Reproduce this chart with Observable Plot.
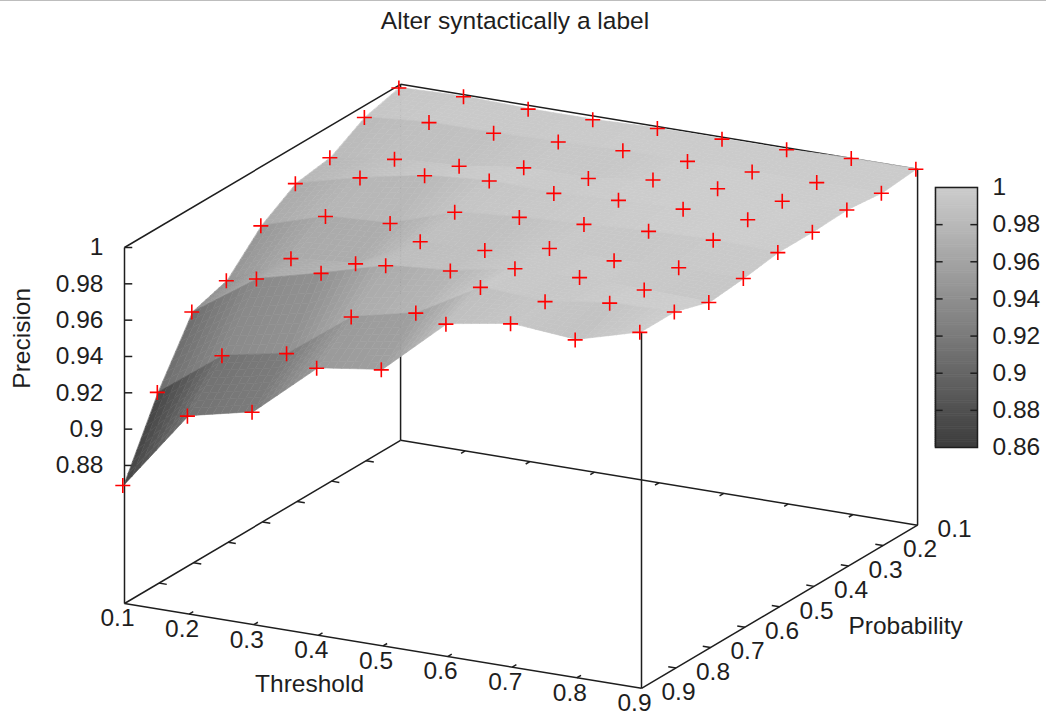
<!DOCTYPE html>
<html>
<head>
<meta charset="utf-8">
<script src="https://cdn.jsdelivr.net/npm/d3@7"></script>
<script src="https://cdn.jsdelivr.net/npm/@observablehq/plot@0.6"></script>
<style>
html,body{margin:0;padding:0;background:#fff;}
#chart{position:relative;width:1046px;height:715px;overflow:hidden;}
#chart svg{display:block;}
#title{position:absolute;left:0;top:7px;width:1030px;text-align:center;font:24.5px "Liberation Sans",Arial,sans-serif;color:#1e1e1e;z-index:2;}
#topline{position:absolute;left:0;top:0;width:1046px;height:1px;background:#bdbdbd;z-index:2;}
#cb{position:absolute;left:920px;top:170px;}
</style>
</head>
<body>
<div id="chart"><div id="topline"></div><div id="title">Alter syntactically a label</div></div>
<script>
const thresholds = [0.1,0.2,0.3,0.4,0.5,0.6,0.7,0.8,0.9];
const probabilities = [0.1,0.2,0.3,0.4,0.5,0.6,0.7,0.8,0.9];
const precisionP1 = [0.998,0.999,0.998,0.998,0.999,0.999,0.999,1.0,1.0];
const precisionP2 = [0.993,0.996,0.996,0.997,0.998,0.998,0.998,0.998,0.998];
const precisionP3 = [0.982,0.987,0.989,0.994,0.994,0.999,1.0,0.999,1.0];
const precisionP4 = [0.979,0.988,0.995,0.998,0.997,0.999,1.0,1.0,0.999];
const precisionP5 = [0.967,0.978,0.980,0.992,0.995,0.997,0.999,1.0,0.999];
const precisionP6 = [0.948,0.966,0.969,0.987,0.988,0.995,0.994,0.996,0.996];
const precisionP7 = [0.942,0.966,0.975,0.985,0.988,0.995,0.996,0.995,0.994];
const precisionP8 = [0.909,0.935,0.942,0.968,0.976,0.996,0.994,0.999,1.0];
const precisionP9 = [0.869,0.913,0.921,0.951,0.956,0.987,0.993,0.990,1.0];
const precisionRows = [precisionP1,precisionP2,precisionP3,precisionP4,precisionP5,precisionP6,precisionP7,precisionP8,precisionP9];
const zTicks = [0.88,0.9,0.92,0.94,0.96,0.98,1];
const colorbarTicks = [0.86,0.88,0.9,0.92,0.94,0.96,0.98,1];
const zBase = 0.804, zTop = 1;
const ink = "#1e1e1e";
const fontFamily = '"Liberation Sans",Arial,sans-serif';
const fontSize = 24.5;

// oblique view: the x scale reads Threshold, the y scale reads Precision, Probability shears both
const shearXP = 0.534, shearYT = 0.0584, shearYP = 0.1123;
const px = (T,P) => T + (0.9-P)*shearXP;
const py = (T,P,Z) => Z - (T-0.1)*shearYT + (0.9-P)*shearYP;

const greys = {type:"linear",domain:[0.86,1],range:["#3c3c3c","#cdcdcd"]};

// surface pieces, painted from the back corner to the front corner.
// Each band between two probability rows takes its grey from its front row.
const steps = 8;
const surface = [];
let id = 0;
const lerp = (a,b,t) => a+(b-a)*t;
for (let j=0;j<8;j++) for (let i=0;i<8;i++) {
  const z00=precisionRows[j][i], z10=precisionRows[j][i+1], z01=precisionRows[j+1][i], z11=precisionRows[j+1][i+1];
  const at=(s,t)=>{
    const T=lerp(thresholds[i],thresholds[i+1],s), P=lerp(probabilities[j],probabilities[j+1],t);
    const Z=lerp(lerp(z00,z10,s),lerp(z01,z11,s),t);
    return {x:px(T,P),y:py(T,P,Z)};
  };
  for (let b=0;b<steps;b++) for (let a=0;a<steps;a++) {
    const A0=at(a/steps,b/steps),A1=at((a+1)/steps,b/steps),B0=at(a/steps,(b+1)/steps),B1=at((a+1)/steps,(b+1)/steps);
    const c=lerp(z01,z11,(a+0.5)/steps); id++;
    surface.push({x1:A0.x,y1:A0.y,x2:B0.x,y2:B0.y,c,id},{x1:A1.x,y1:A1.y,x2:B1.x,y2:B1.y,c,id});
  }
}
const points = precisionRows.flatMap((row,j)=>row.map((Z,i)=>({x:px(thresholds[i],probabilities[j]),y:py(thresholds[i],probabilities[j],Z)})));

const edge = (a,b)=>({x1:px(a[0],a[1]),y1:py(...a),x2:px(b[0],b[1]),y2:py(...b)});
const backEdges = [
  edge([0.1,0.9,zBase],[0.9,0.9,zBase]), edge([0.9,0.9,zBase],[0.9,0.1,zBase]),
  edge([0.1,0.9,zBase],[0.1,0.1,zBase]), edge([0.1,0.1,zBase],[0.9,0.1,zBase]),
  edge([0.1,0.9,zBase],[0.1,0.9,zTop]), edge([0.1,0.1,zBase],[0.1,0.1,zTop]),
  edge([0.9,0.1,zBase],[0.9,0.1,zTop]),
  edge([0.1,0.9,zTop],[0.1,0.1,zTop]), edge([0.1,0.1,zTop],[0.9,0.1,zTop])
];
const frontEdges = [edge([0.9,0.9,zBase],[0.9,0.9,zTop])];
const tl = 0.012;
const tickLinks = [
  ...thresholds.slice(1,-1).flatMap(T=>[edge([T,0.9,zBase],[T,0.9-tl,zBase]),edge([T,0.1,zBase],[T,0.1+tl,zBase])]),
  ...probabilities.slice(1,-1).flatMap(P=>[edge([0.9,P,zBase],[0.9-tl,P,zBase]),edge([0.1,P,zBase],[0.1+tl,P,zBase])]),
  ...zTicks.map(z=>({x1:0.1,y1:z,x2:0.1+tl,y2:z}))
];

const txt = {fontFamily,fontSize,fill:ink};
const main = Plot.plot({
  width:1046,height:715,
  marginLeft:124,marginTop:0,marginRight:0,marginBottom:0,
  x:{type:"linear",domain:[0.1,0.9],range:[124,641],axis:null},
  y:{type:"linear",domain:[zBase,1],range:[603,247]},
  color:greys,
  style:{background:"white",overflow:"visible"},
  marks:[
    Plot.link(backEdges,{x1:"x1",y1:"y1",x2:"x2",y2:"y2",stroke:ink,strokeWidth:1.5}),
    Plot.link(tickLinks,{x1:"x1",y1:"y1",x2:"x2",y2:"y2",stroke:ink,strokeWidth:1.5}),
    Plot.area(surface,{x1:"x1",y1:"y1",x2:"x2",y2:"y2",z:"id",fill:"c",stroke:"c",strokeWidth:0.6,curve:"linear"}),
    Plot.link(frontEdges,{x1:"x1",y1:"y1",x2:"x2",y2:"y2",stroke:ink,strokeWidth:1.5}),
    Plot.dot(points,{x:"x",y:"y",symbol:"plus",r:4.9,dx:-1.7,stroke:"#ff0000",strokeWidth:1.6}),
    Plot.axisY({anchor:"left",ticks:zTicks,tickSize:0,tickPadding:21,tickFormat:d=>String(d),label:null,fontSize,fontFamily,color:ink}),
    Plot.text(thresholds,{x:T=>px(T,0.9),y:T=>py(T,0.9,zBase),text:T=>String(T),dx:-7,dy:15,...txt}),
    Plot.text(probabilities,{x:P=>px(0.9,P),y:P=>py(0.9,P,zBase),text:P=>String(P),dx:37,dy:4,...txt}),
    Plot.text(["Threshold"],{x:()=>px(0.49,1.094),y:()=>py(0.49,1.094,zBase),text:d=>d,...txt}),
    Plot.text(["Probability"],{x:()=>px(1.093,0.496),y:()=>py(1.093,0.496,zBase),text:d=>d,...txt}),
    Plot.text(["Precision"],{x:()=>-0.058,y:()=>0.95,text:d=>d,rotate:-90,...txt})
  ]
});
document.getElementById("chart").appendChild(main);

const barSteps = d3.range(0,140).map(k=>0.86+k*0.001);
const cb = Plot.plot({
  width:126,height:300,
  marginLeft:15,marginRight:69,marginTop:17,marginBottom:23,
  x:{type:"linear",domain:[0,1],axis:null},
  y:{type:"linear",domain:[0.86,1]},
  color:greys,
  style:{overflow:"visible",background:"transparent"},
  marks:[
    Plot.rect(barSteps,{x1:()=>0,x2:()=>1,y1:d=>d,y2:d=>d+0.001,fill:d=>d+0.0005,inset:-0.3}),
    Plot.link(colorbarTicks.slice(1,-1),{x1:()=>0,x2:()=>0.17,y1:d=>d,y2:d=>d,stroke:ink,strokeWidth:1.5}),
    Plot.link(colorbarTicks.slice(1,-1),{x1:()=>0.83,x2:()=>1,y1:d=>d,y2:d=>d,stroke:ink,strokeWidth:1.5}),
    Plot.frame({stroke:ink,strokeWidth:1.5}),
    Plot.axisY({anchor:"right",ticks:colorbarTicks,tickSize:0,tickPadding:15,tickFormat:d=>String(d),label:null,fontSize,fontFamily,color:ink})
  ]
});
cb.id="cb";
document.getElementById("chart").appendChild(cb);
</script>
</body>
</html>
